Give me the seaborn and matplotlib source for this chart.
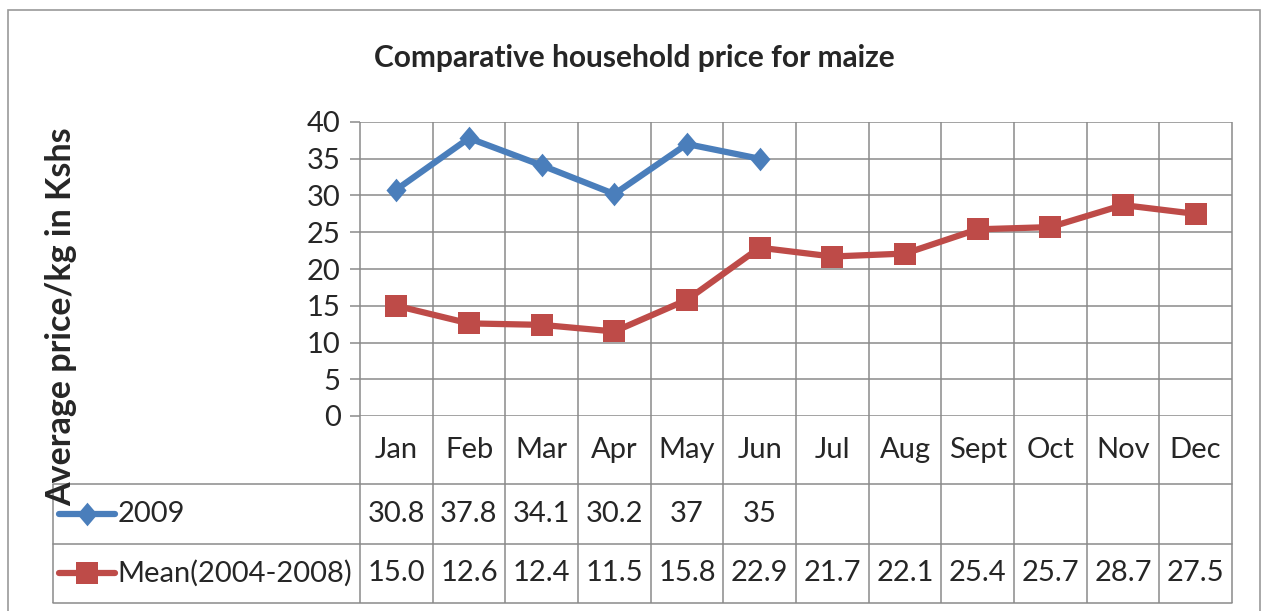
import numpy as np
import pandas as pd
import matplotlib.pyplot as plt
import seaborn as sns
from matplotlib.lines import Line2D
from matplotlib.patches import Rectangle
from matplotlib.markers import MarkerStyle

# data
months = ['Jan', 'Feb', 'Mar', 'Apr', 'May', 'Jun', 'Jul', 'Aug', 'Sept', 'Oct', 'Nov', 'Dec']
price_2009 = [30.8, 37.8, 34.1, 30.2, 37, 35]
price_mean = [15.0, 12.6, 12.4, 11.5, 15.8, 22.9, 21.7, 22.1, 25.4, 25.7, 28.7, 27.5]
label_2009 = ['30.8', '37.8', '34.1', '30.2', '37', '35']
label_mean = ['15.0', '12.6', '12.4', '11.5', '15.8', '22.9', '21.7', '22.1', '25.4', '25.7', '28.7', '27.5']
series_names = ['2009', 'Mean(2004-2008)']

sns.set_style('white')
plt.rcParams['font.family'] = ['Lato', 'DejaVu Sans']

blue = '#4A7EBB'
red = '#BE4B48'
grey = '#8A8A8A'
fs = 21

df = pd.concat([
    pd.DataFrame({'month': np.arange(len(price_2009)), 'price': price_2009, 'series': series_names[0]}),
    pd.DataFrame({'month': np.arange(len(price_mean)), 'price': price_mean, 'series': series_names[1]}),
])

diamond = MarkerStyle([(0, 1), (0.85, 0), (0, -1), (-0.85, 0)])
markers = {series_names[0]: diamond, series_names[1]: 's'}
msizes = {series_names[0]: 17, series_names[1]: 15.5}
colors = {series_names[0]: blue, series_names[1]: red}

W, H = 1266, 611
fig = plt.figure(figsize=(W / 100, H / 100), dpi=100)
ax = fig.add_axes([360 / W, 195 / H, 872 / W, 294 / H])

sns.lineplot(data=df[df.series == series_names[0]], x='month', y='price', color=blue,
             marker=diamond, lw=4.5, markersize=msizes[series_names[0]], markeredgewidth=0,
             ax=ax, zorder=5)
sns.lineplot(data=df[df.series == series_names[1]], x='month', y='price', color=red,
             marker='s', lw=4.5, markersize=msizes[series_names[1]], markeredgewidth=0,
             ax=ax, zorder=5)

ax.set_xlim(-0.5, len(months) - 0.5)
ax.set_ylim(0, 40)
ax.set_yticks(np.arange(0, 41, 5))
ax.set_xticks([])
ax.set_xlabel('')
ax.set_ylabel('')
ax.tick_params(axis='y', length=7, width=1.1, color=grey, labelsize=fs, pad=7, left=True)
ax.grid(axis='y', color=grey, lw=1.1)
for s in ax.spines.values():
    s.set_visible(False)

# data table under the plot (rows in axes fraction)
trans = ax.get_xaxis_transform()
row_top, row_a, row_b, row_bot = 0.0, -0.2313, -0.4354, -0.636
left_edge = -4.72  # left edge of legend column, in category units
edges = np.arange(len(months) + 1) - 0.5
ax.vlines(edges, row_bot, 1.0, colors=grey, lw=1.1, transform=trans, clip_on=False)
ax.vlines([left_edge], row_bot, row_a, colors=grey, lw=1.1, transform=trans, clip_on=False)
for y in [row_a, row_b, row_bot]:
    ax.plot([left_edge, edges[-1]], [y, y], color=grey, lw=1.1, transform=trans, clip_on=False)

mid = lambda a, b: (a + b) / 2
for i, m in enumerate(months):
    ax.text(i, mid(row_top, row_a), m, ha='center', va='center', fontsize=fs, transform=trans)
for i, t in enumerate(label_2009):
    ax.text(i, mid(row_a, row_b), t, ha='center', va='center', fontsize=fs, transform=trans)
for i, t in enumerate(label_mean):
    ax.text(i, mid(row_b, row_bot), t, ha='center', va='center', fontsize=fs, transform=trans)

# legend keys inside the table
colors = {series_names[0]: blue, series_names[1]: red}
for name, yr in zip(series_names, [mid(row_a, row_b), mid(row_b, row_bot)]):
    key = Line2D([left_edge + 0.08, left_edge + 0.85], [yr, yr], color=colors[name], lw=4.5,
                 transform=trans, clip_on=False)
    ax.add_line(key)
    ax.plot([left_edge + 0.465], [yr], marker=markers[name], ms=msizes[name], mew=0,
            color=colors[name], transform=trans, clip_on=False)
    ax.text(left_edge + 0.88, yr, name, ha='left', va='center', fontsize=fs, transform=trans)

fig.text(634 / W, 1 - 58 / H, 'Comparative household price for maize', ha='center', va='center',
         fontsize=21.5, fontweight='bold')
fig.text(61 / W, 1 - 317 / H, 'Average price/kg in Kshs', ha='center', va='center',
         rotation=90, fontsize=24.5, fontweight='bold')

fig.patches.append(Rectangle((8 / W, -0.1), 1252 / W, 1.1 - 10 / H, transform=fig.transFigure,
                             fill=False, edgecolor='#9A9A9A', lw=1.2))

fig.savefig('out.png', dpi=100)
